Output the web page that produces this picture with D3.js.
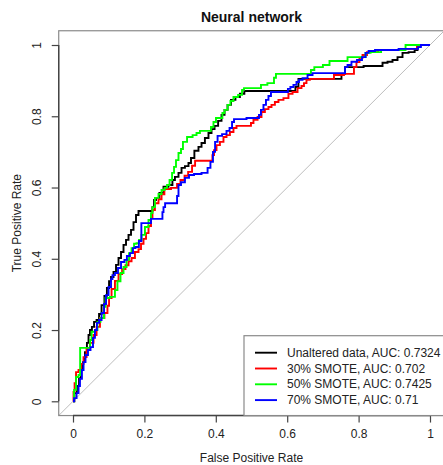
<!DOCTYPE html>
<html>
<head>
<meta charset="utf-8">
<script src="https://cdn.jsdelivr.net/npm/d3@7"></script>
<style>
  html, body { margin: 0; padding: 0; background: #fff; }
  svg { display: block; font-family: "Liberation Sans", Arial, Helvetica, sans-serif; }
</style>
</head>
<body>
<svg id="chart" width="443" height="465"></svg>
<script>
// ROC curves: [false positive rate, true positive rate] vertices
const unalteredRoc = [
  [0,0],[.008,.023],[.014,.043],[.020,.065],[.025,.088],[.031,.110],[.036,.138],[.042,.164],
  [.045,.186],[.050,.200],[.056,.209],[.062,.223],[.070,.228],[.076,.245],[.084,.270],[.092,.296],
  [.098,.318],[.104,.337],[.109,.349],[.118,.363],[.123,.383],[.132,.402],[.137,.419],[.146,.439],
  [.151,.453],[.160,.467],[.165,.481],[.174,.503],[.179,.523],[.188,.534],[.221,.534],[.224,.545],
  [.230,.565],[.235,.571],[.249,.585],[.258,.602],[.277,.607],[.280,.621],[.291,.630],[.300,.641],
  [.308,.655],[.319,.660],[.328,.669],[.333,.683],[.347,.703],[.356,.714],[.364,.725],[.375,.739],
  [.384,.753],[.392,.764],[.401,.773],[.412,.787],[.420,.804],[.429,.818],[.437,.832],[.448,.846],
  [.462,.854],[.473,.863],[.487,.871],[.619,.871],[.627,.882],[.636,.905],[.748,.905],[.756,.919],
  [.768,.938],[.860,.941],[.874,.950],[.888,.953],[.902,.958],[.916,.966],[.930,.978],[.950,.980],
  [.964,.986],[.966,.997],[.980,1],[1,1]
];
const smote30Roc = [
  [0,0],[.003,.026],[.006,.051],[.011,.082],[.020,.088],[.025,.105],[.034,.124],[.042,.150],
  [.053,.164],[.062,.186],[.070,.209],[.081,.234],[.095,.248],[.098,.268],[.104,.290],[.112,.315],
  [.123,.338],[.132,.357],[.143,.371],[.151,.382],[.160,.393],[.168,.402],[.179,.419],[.188,.427],
  [.193,.442],[.202,.456],[.207,.472],[.216,.492],[.221,.515],[.224,.537],[.235,.556],[.244,.567],
  [.252,.581],[.260,.596],[.289,.599],[.294,.610],[.308,.621],[.317,.633],[.328,.644],[.339,.661],
  [.345,.675],[.389,.675],[.392,.691],[.398,.705],[.406,.719],[.417,.728],[.426,.742],[.434,.747],
  [.445,.756],[.454,.767],[.462,.773],[.496,.773],[.501,.781],[.510,.790],[.524,.798],[.532,.812],
  [.543,.820],[.552,.826],[.560,.832],[.571,.840],[.580,.846],[.599,.851],[.608,.863],[.622,.868],
  [.636,.879],[.644,.885],[.650,.893],[.658,.902],[.669,.905],[.728,.905],[.734,.916],[.784,.919],
  [.790,.938],[.798,.952],[.807,.964],[.815,.972],[.832,.980],[.877,.986],[.961,.989],[.966,.997],
  [.975,1],[1,1]
];
const smote50Roc = [
  [0,0],[.006,.032],[.011,.068],[.020,.074],[.020,.150],[.048,.150],[.048,.172],[.056,.195],
  [.067,.200],[.070,.223],[.084,.234],[.090,.265],[.092,.290],[.115,.293],[.120,.312],[.129,.337],
  [.137,.360],[.146,.377],[.154,.397],[.160,.416],[.168,.430],[.174,.442],[.182,.444],[.188,.453],
  [.196,.467],[.207,.489],[.216,.509],[.221,.528],[.224,.545],[.235,.571],[.244,.582],[.252,.593],
  [.261,.599],[.266,.607],[.275,.621],[.280,.641],[.286,.658],[.291,.677],[.300,.697],[.305,.708],
  [.311,.728],[.328,.742],[.342,.747],[.350,.753],[.361,.759],[.384,.759],[.389,.770],[.398,.784],
  [.403,.795],[.417,.795],[.420,.809],[.429,.818],[.437,.832],[.445,.843],[.454,.854],[.471,.860],
  [.476,.874],[.482,.879],[.524,.879],[.529,.888],[.560,.893],[.566,.908],[.571,.919],[.664,.919],
  [.669,.930],[.683,.938],[.717,.944],[.720,.955],[.768,.955],[.770,.966],[.818,.966],[.821,.978],
  [.846,.980],[.880,.986],[.930,.986],[.933,1],[1,1]
];
const smote70Roc = [
  [0,0],[.006,.009],[.014,.023],[.017,.043],[.022,.063],[.028,.088],[.031,.110],[.039,.130],
  [.045,.144],[.053,.152],[.059,.178],[.064,.200],[.070,.220],[.076,.228],[.084,.248],[.090,.273],
  [.095,.298],[.104,.321],[.109,.343],[.112,.354],[.123,.360],[.129,.374],[.140,.391],[.148,.397],
  [.154,.408],[.165,.416],[.171,.430],[.179,.433],[.190,.450],[.193,.500],[.216,.500],[.221,.512],
  [.249,.512],[.252,.531],[.255,.545],[.261,.556],[.289,.556],[.294,.576],[.297,.607],[.308,.615],
  [.319,.627],[.331,.635],[.347,.638],[.373,.641],[.381,.655],[.389,.672],[.395,.700],[.401,.728],
  [.409,.745],[.426,.750],[.434,.759],[.443,.767],[.448,.784],[.454,.792],[.518,.795],[.524,.804],
  [.529,.818],[.538,.832],[.543,.846],[.552,.857],[.557,.868],[.599,.868],[.605,.877],[.613,.882],
  [.622,.888],[.630,.896],[.636,.902],[.650,.907],[.664,.916],[.678,.921],[.759,.921],[.765,.938],
  [.773,.944],[.787,.953],[.804,.958],[.815,.966],[.824,.978],[.832,.983],[.860,.986],[.964,.989],
  [.969,.994],[.980,1],[1,1]
];

const seriesLabels = ["Unaltered data", "30% SMOTE", "50% SMOTE", "70% SMOTE"];
const aucValues = ["0.7324", "0.702", "0.7425", "0.71"];
const seriesColors = ["#000000", "#ff0000", "#00ff00", "#0000ff"];
const rocData = [unalteredRoc, smote30Roc, smote50Roc, smote70Roc];

const tickValues = [0, 0.2, 0.4, 0.6, 0.8, 1];
const tickLabels = ["0", "0.2", "0.4", "0.6", "0.8", "1"];

const svg = d3.select("#chart");

// R-style plot region: data range [0,1] padded by 4% on each side
const x = d3.scaleLinear().domain([-0.04, 1.04]).range([73 - 14.28, 430 + 14.28]);
const y = d3.scaleLinear().domain([-0.04, 1.04]).range([401.3 + 14.25, 45 - 14.25]);
const [x0, x1] = x.range();
const [yb, yt] = y.range();

svg.append("defs").append("clipPath").attr("id", "plotClip")
  .append("rect").attr("x", x0).attr("y", yt).attr("width", x1 - x0).attr("height", yb - yt);

// chance diagonal
svg.append("line")
  .attr("clip-path", "url(#plotClip)")
  .attr("x1", x(-0.04)).attr("y1", y(-0.04))
  .attr("x2", x(1.04)).attr("y2", y(1.04))
  .attr("stroke", "#bdbdbd").attr("stroke-width", 1);

// ROC step curves
const line = d3.line()
  .x(d => x(d[0]))
  .y(d => y(d[1]))
  .curve(d3.curveStep);

rocData.forEach((pts, i) => {
  svg.append("path")
    .datum(pts)
    .attr("d", line)
    .attr("fill", "none")
    .attr("stroke", seriesColors[i])
    .attr("stroke-width", 1.9)
    .attr("stroke-linejoin", "miter");
});

// plot box
svg.append("rect")
  .attr("x", x0).attr("y", yt).attr("width", x1 - x0).attr("height", yb - yt)
  .attr("fill", "none").attr("stroke", "#8a8a8a").attr("stroke-width", 1.2);

// axes
const xAxis = d3.axisBottom(x).tickValues(tickValues)
  .tickFormat((d, i) => tickLabels[i]).tickSize(7).tickPadding(7);
const gx = svg.append("g").attr("transform", `translate(0,${yb})`).call(xAxis);
gx.select(".domain").attr("d", `M${x(0)},0H${x(1)}`).attr("stroke", "#444").attr("stroke-width", 1.4);
gx.selectAll(".tick line").attr("stroke", "#444").attr("stroke-width", 1.2);
gx.selectAll(".tick text").attr("font-size", 12).attr("fill", "#222")
  .attr("font-family", "Liberation Sans, Arial, sans-serif");

const yAxis = d3.axisLeft(y).tickValues(tickValues)
  .tickFormat((d, i) => tickLabels[i]).tickSize(7).tickPadding(0);
const gy = svg.append("g").attr("transform", `translate(${x0},0)`).call(yAxis);
gy.select(".domain").attr("d", `M0,${y(0)}V${y(1)}`).attr("stroke", "#444").attr("stroke-width", 1.4);
gy.selectAll(".tick line").attr("stroke", "#444").attr("stroke-width", 1.2);
gy.selectAll(".tick text")
  .attr("font-size", 12).attr("fill", "#222")
  .attr("font-family", "Liberation Sans, Arial, sans-serif")
  .attr("x", null).attr("dy", null)
  .attr("text-anchor", "middle")
  .attr("dominant-baseline", "central")
  .attr("transform", "translate(-22,0) rotate(-90)");

// title and axis titles
svg.append("text")
  .attr("x", (x0 + x1) / 2).attr("y", 22)
  .attr("text-anchor", "middle")
  .attr("font-size", 14).attr("font-weight", "bold").attr("fill", "#111")
  .text("Neural network");

svg.append("text")
  .attr("x", (x0 + x1) / 2).attr("y", 462)
  .attr("text-anchor", "middle")
  .attr("font-size", 12).attr("fill", "#222")
  .text("False Positive Rate");

svg.append("text")
  .attr("transform", `translate(17,${(yt + yb) / 2}) rotate(-90)`)
  .attr("text-anchor", "middle")
  .attr("dominant-baseline", "central")
  .attr("font-size", 12).attr("fill", "#222")
  .text("True Positive Rate");

// legend in the bottom-right corner
const legend = svg.append("g");
const legendLeft = 244, legendTop = 335.7, rowH = 15.8;
legend.append("rect")
  .attr("x", legendLeft).attr("y", legendTop)
  .attr("width", x1 - legendLeft).attr("height", yb - legendTop)
  .attr("fill", "#fff").attr("stroke", "#8a8a8a").attr("stroke-width", 1.2);

seriesLabels.forEach((lab, i) => {
  const cy = legendTop + 17 + i * rowH;
  legend.append("line")
    .attr("x1", legendLeft + 11).attr("x2", legendLeft + 33)
    .attr("y1", cy).attr("y2", cy)
    .attr("stroke", seriesColors[i]).attr("stroke-width", 1.9);
  legend.append("text")
    .attr("x", legendLeft + 43).attr("y", cy)
    .attr("dominant-baseline", "central")
    .attr("font-size", 12).attr("fill", "#222")
    .text(`${lab}, AUC: ${aucValues[i]}`);
});
</script>
</body>
</html>
